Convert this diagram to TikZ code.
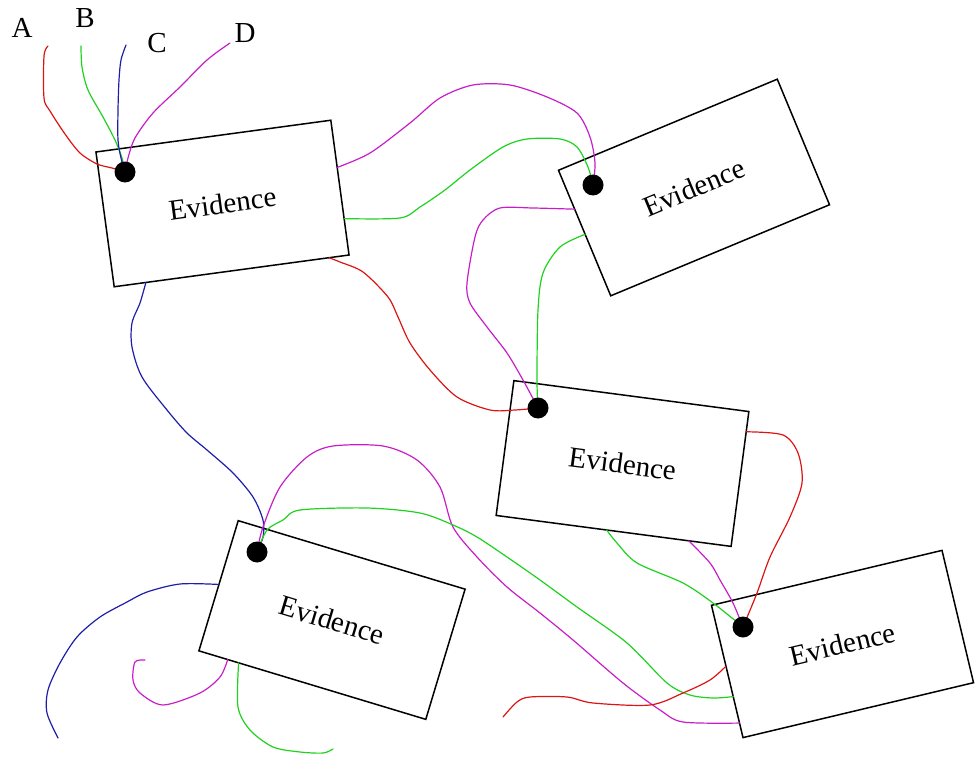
\documentclass[tikz,border=0pt]{standalone}
\usepackage{fontspec}
\setmainfont{Liberation Serif}
\usetikzlibrary{calc}

\definecolor{lred}{RGB}{220,20,20}
\definecolor{lgreen}{RGB}{30,210,30}
\definecolor{lblue}{RGB}{30,30,170}
\definecolor{lmag}{RGB}{200,30,200}

\tikzset{
  evbox/.style={draw=black, fill=white, line width=1.5pt, minimum width=237pt,
    minimum height=136pt, inner sep=0pt, outer sep=0pt,
    font=\fontsize{29}{34}\selectfont},
  pin/.style={circle, fill=black, minimum size=21pt, inner sep=0pt},
  lab/.style={font=\fontsize{29}{34}\selectfont, inner sep=0pt},
  wire/.style={line width=1.2pt, line join=round, line cap=round},
}

\begin{document}
\begin{tikzpicture}[x=1pt, y=-1pt]
\useasboundingbox (0,0) rectangle (975,760);

% evidence cards
\node[evbox, rotate=7.7]   (b1) at (222.5,203.5) {Evidence};
\node[evbox, rotate=22.6]  (b2) at (694,187.5)   {Evidence};
\node[evbox, rotate=-7.5]  (b3) at (622.5,463.5) {Evidence};
\node[evbox, rotate=-16.8] (b4) at (332,620)     {Evidence};
\node[evbox, rotate=13.4]  (b5) at (842.5,644)   {Evidence};

% thread labels
\node[lab] (lA) at (22,28) {A};
\node[lab] (lB) at (85,18) {B};
\node[lab] (lC) at (157,43) {C};
\node[lab] (lD) at (245,33) {D};

% pins
\coordinate (p1) at (125,172);
\coordinate (p2) at (593,185);
\coordinate (p3) at (538,408);
\coordinate (p4) at (257,552);
\coordinate (p5) at (743,627);

% loose thread ends
\coordinate (tA) at (48,46);
\coordinate (tB) at (81,46);
\coordinate (tC) at (126,45);
\coordinate (tD) at (230,43);
\coordinate (fBlue) at (58,738);
\coordinate (fHook) at (145,660);
\coordinate (fGreen) at (333,749);
\coordinate (fRed) at (503,717);

% points where threads leave the card edges
\coordinate (e1m) at ($(b1.north east)!0.35!(b1.south east)$);
\coordinate (e1g) at ($(b1.north east)!0.73!(b1.south east)$);
\coordinate (e1r) at ($(b1.south west)!0.915!(b1.south east)$);
\coordinate (e1c) at ($(b1.south west)!0.135!(b1.south east)$);
\coordinate (e2m) at ($(b2.north west)!0.31!(b2.south west)$);
\coordinate (e2g) at ($(b2.north west)!0.51!(b2.south west)$);
\coordinate (e3r) at ($(b3.north east)!0.15!(b3.south east)$);
\coordinate (e3m) at ($(b3.south west)!0.82!(b3.south east)$);
\coordinate (e3g) at ($(b3.south west)!0.47!(b3.south east)$);
\coordinate (e4c) at ($(b4.north west)!0.49!(b4.south west)$);
\coordinate (e4m) at ($(b4.south west)!0.127!(b4.south east)$);
\coordinate (e4g) at ($(b4.south west)!0.175!(b4.south east)$);
\coordinate (e5m) at ($(b5.north west)!0.89!(b5.south west)$);
\coordinate (e5g) at ($(b5.north west)!0.69!(b5.south west)$);
\coordinate (e5r) at ($(b5.north west)!0.46!(b5.south west)$);

% threads A-D into the first pin
\draw[wire, lred] plot[smooth, tension=0.5] coordinates {(tA) (44,56) (44,98) (50,111) (65,134) (80,153) (97,164) (112,168) (p1)};
\draw[wire, lgreen] plot[smooth, tension=0.5] coordinates {(tB) (82,67) (88,90) (103,117) (115,140) (122,158) (p1)};
\draw[wire, lblue] plot[smooth, tension=0.5] coordinates {(tC) (121,60) (119,80) (118,110) (118,140) (121,158) (p1)};
\draw[wire, lmag] plot[smooth, tension=0.5] coordinates {(tD) (207,60) (180,87) (153,113) (135,138) (128,158) (p1)};

% card 1 -> pin 2
\draw[wire, lmag] plot[smooth, tension=0.5] coordinates {(e1m) (370,153) (410,123) (440,98) (473,85) (510,85) (547,97) (577,113) (590,137) (595,163) (p2)};
\draw[wire, lgreen] plot[smooth, tension=0.5] coordinates {(e1g) (400,218) (420,207) (445,190) (470,170) (503,147) (527,139) (560,139) (577,147) (588,167) (p2)};

% into pin 3
\draw[wire, lred] plot[smooth, tension=0.5] coordinates {(e1r) (340,262) (363,272) (388,297) (398,317) (410,343) (430,370) (457,397) (490,410) (515,410) (p3)};
\draw[wire, lmag] plot[smooth, tension=0.5] coordinates {(e2m) (533,208) (500,208) (483,220) (475,237) (467,283) (470,303) (487,327) (507,353) (523,380) (p3)};
\draw[wire, lgreen] plot[smooth, tension=0.5] coordinates {(e2g) (560,247) (543,273) (538,310) (537,380) (p3)};

% into pin 5
\draw[wire, lred] plot[smooth, tension=0.5] coordinates {(e3r) (783,435) (798,453) (802,483) (790,517) (770,557) (757,593) (p5)};
\draw[wire, lmag] plot[smooth, tension=0.5] coordinates {(e3m) (710,563) (720,580) (733,603) (p5)};
\draw[wire, lgreen] plot[smooth, tension=0.5] coordinates {(e3g) (617,543) (637,563) (683,583) (713,603) (p5)};

% card 1 -> pin 4
\draw[wire, lblue] plot[smooth, tension=0.5] coordinates {(e1c) (140,303) (132,323) (132,347) (142,377) (167,410) (187,433) (207,450) (233,473) (253,497) (263,520) (263,537) (p4)};

% pin 4 -> card 5
\draw[wire, lmag] plot[smooth, tension=0.5] coordinates {(p4) (263,527) (280,487) (307,457) (333,446) (383,446) (417,460) (440,487) (453,527) (477,557) (507,587) (540,613) (573,640) (623,683) (660,710) (683,722) (e5m)};
\draw[wire, lgreen] plot[smooth, tension=0.5] coordinates {(p4) (267,530) (283,520) (300,510) (367,508) (420,513) (453,525) (477,537) (507,557) (540,580) (577,607) (627,643) (667,683) (690,695) (713,698) (e5g)};

% loose threads
\draw[wire, lblue] plot[smooth, tension=0.5] coordinates {(e4c) (180,584) (147,592) (127,602) (100,617) (77,637) (60,663) (48,690) (47,713) (fBlue)};
\draw[wire, lmag] plot[smooth, tension=0.5] coordinates {(e4m) (220,677) (200,693) (163,705) (140,693) (133,680) (135,662) (fHook)};
\draw[wire, lgreen] plot[smooth, tension=0.5] coordinates {(e4g) (238,707) (250,730) (273,747) (300,752) (323,753) (fGreen)};
\draw[wire, lred] plot[smooth, tension=0.5] coordinates {(fRed) (517,702) (530,697) (567,697) (593,703) (650,705) (683,693) (710,680) (e5r)};

% pin heads
\node[pin] (d1) at (p1) {};
\node[pin] (d2) at (p2) {};
\node[pin] (d3) at (p3) {};
\node[pin] (d4) at (p4) {};
\node[pin] (d5) at (p5) {};
\end{tikzpicture}
\end{document}
